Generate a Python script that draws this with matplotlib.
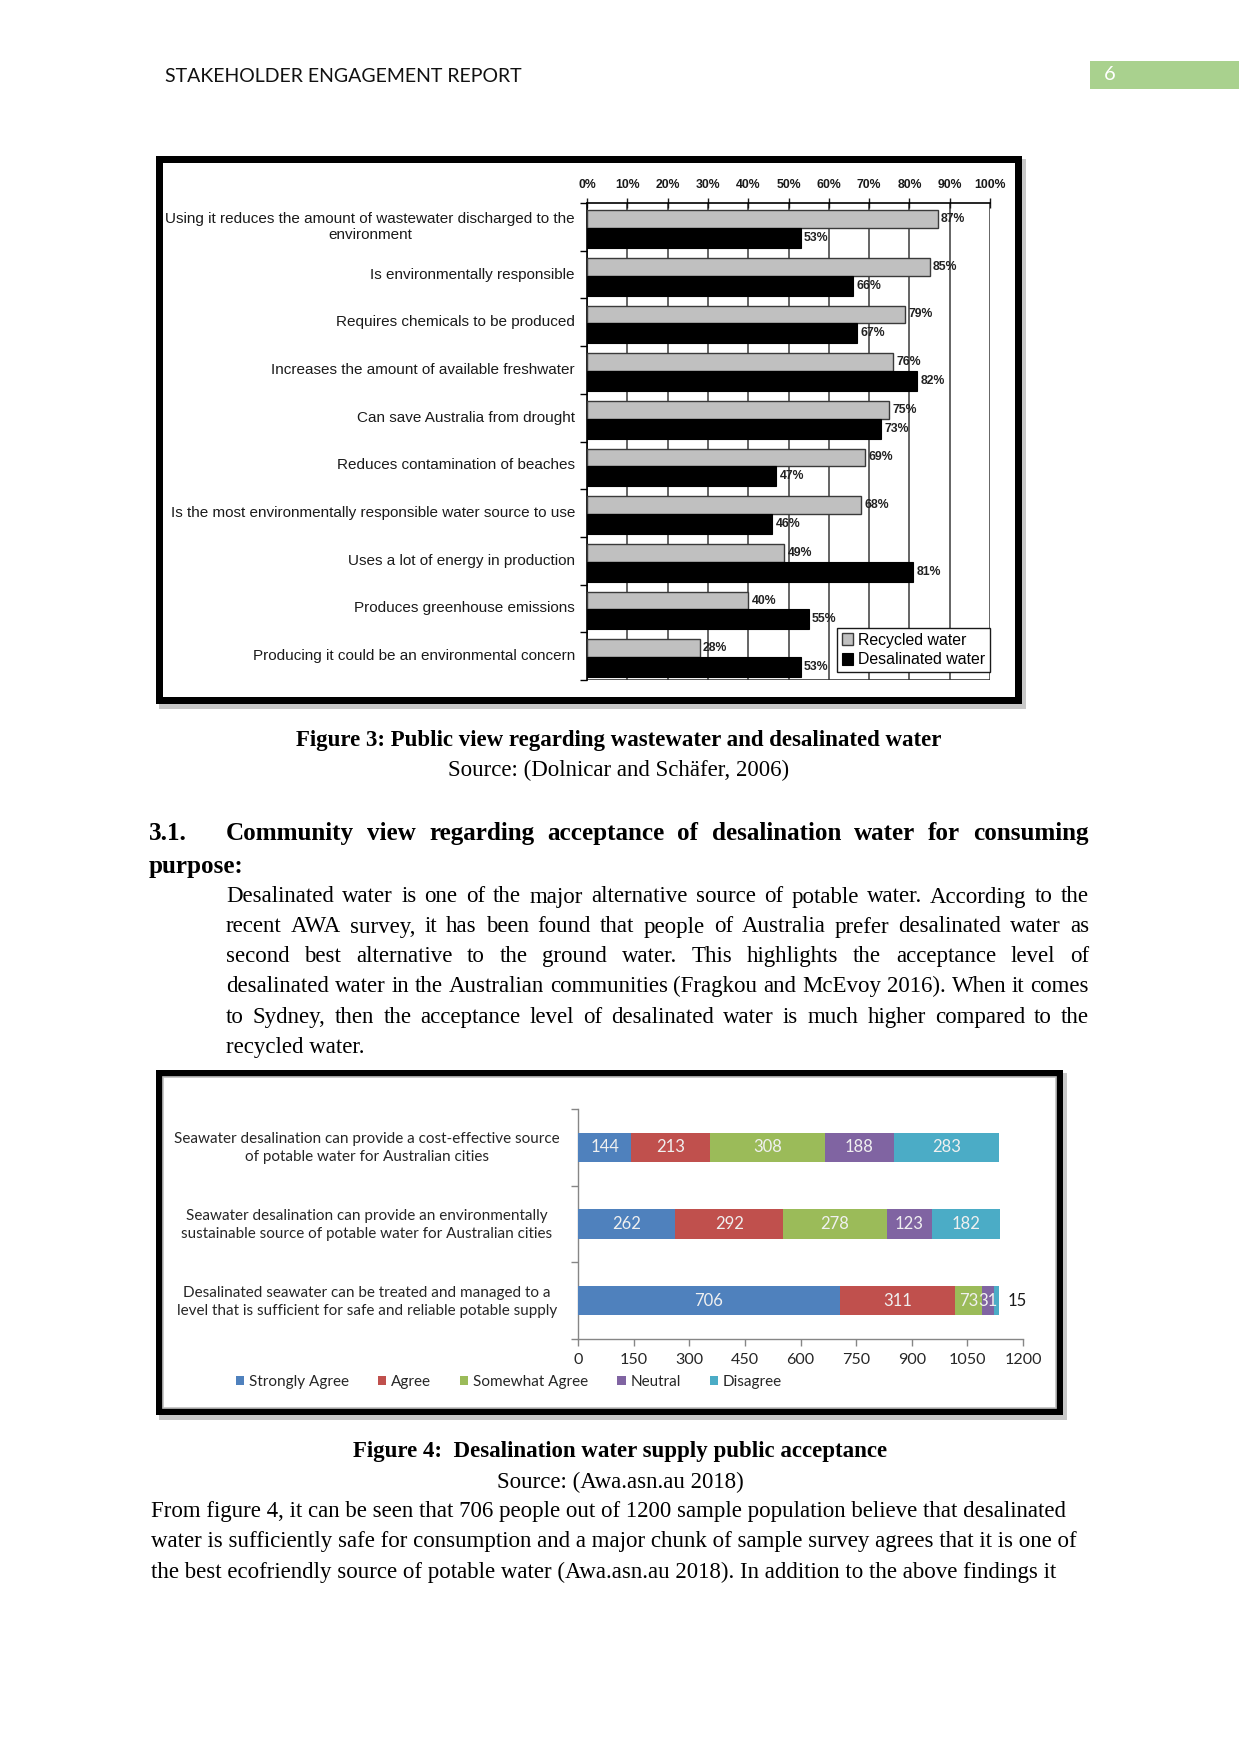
import matplotlib
matplotlib.use("Agg")
import matplotlib.pyplot as plt
import matplotlib.patches as mpatches
import numpy as np

# ── Data ─────────────────────────────────────────────────────────────────────

fig3_labels = [
    "Using it reduces the amount of wastewater discharged to the\nenvironment",
    "Is environmentally responsible",
    "Requires chemicals to be produced",
    "Increases the amount of available freshwater",
    "Can save Australia from drought",
    "Reduces contamination of beaches",
    "Is the most environmentally responsible water source to use",
    "Uses a lot of energy in production",
    "Produces greenhouse emissions",
    "Producing it could be an environmental concern",
]
recycled = [87, 85, 79, 76, 75, 69, 68, 49, 40, 28]
desalinated = [53, 66, 67, 82, 73, 47, 46, 81, 55, 53]

fig4_labels = [
    "Seawater desalination can provide a cost-effective source\nof potable water for Australian cities",
    "Seawater desalination can provide an environmentally\nsustainable source of potable water for Australian cities",
    "Desalinated seawater can be treated and managed to a\nlevel that is sufficient for safe and reliable potable supply",
]
fig4_series = ["Strongly Agree", "Agree", "Somewhat Agree", "Neutral", "Disagree"]
strongly_agree = [144, 262, 706]
agree = [213, 292, 311]
somewhat_agree = [308, 278, 73]
neutral = [188, 123, 31]
disagree = [283, 182, 15]
fig4_ticks = [0, 150, 300, 450, 600, 750, 900, 1050, 1200]

para1 = [
    "Desalinated water is one of the major alternative source of potable water. According to the",
    "recent AWA survey, it has been found that people of Australia prefer desalinated water as",
    "second best alternative to the ground water. This highlights the acceptance level of",
    "desalinated water in the Australian communities (Fragkou and McEvoy 2016). When it comes",
    "to Sydney, then the acceptance level of desalinated water is much higher compared to the",
]
para1_last = "recycled water."
para2 = [
    "From figure 4, it can be seen that 706 people out of 1200 sample population believe that desalinated",
    "water is sufficiently safe for consumption and a major chunk of sample survey agrees that it is one of",
    "the best ecofriendly source of potable water (Awa.asn.au 2018). In addition to the above findings it",
]

# ── Page setup (pixel helpers) ───────────────────────────────────────────────

W, H = 1241, 1754
fig = plt.figure(figsize=(W / 100, H / 100), dpi=100)
fig.patch.set_facecolor("white")
renderer = fig.canvas.get_renderer()


def fx(px):
    return px / W


def fy(py):
    return 1 - py / H


def rect(x0, y0, x1, y1, **kw):
    r = mpatches.Rectangle((fx(x0), fy(y1)), fx(x1) - fx(x0), (y1 - y0) / H,
                           transform=fig.transFigure, **kw)
    fig.patches.append(r)
    return r


def axes_px(x0, y0, x1, y1):
    return fig.add_axes([fx(x0), fy(y1), (x1 - x0) / W, (y1 - y0) / H])


serif = "Liberation Serif"
body_size = 16.45
head_size = 18.1


def baseline_offset(**kw):
    # distance (px) from the centre of an "lp" line box down to its baseline
    t = fig.text(0, 0.5, "lp", va="baseline", **kw)
    bb = t.get_window_extent(renderer)
    off = (bb.y0 + bb.y1) / 2 - 0.5 * H
    t.remove()
    return off


def justify(line, x0, x1, y, **kw):
    off = baseline_offset(**kw)
    words = line.split()
    texts = [fig.text(0, fy(y + off), w, va="baseline", ha="left", **kw) for w in words]
    widths = [t.get_window_extent(renderer).width for t in texts]
    gap = (x1 - x0 - sum(widths)) / max(len(words) - 1, 1)
    x = x0
    for t, w in zip(texts, widths):
        t.set_x(fx(x))
        x += w + gap


# ── Header ───────────────────────────────────────────────────────────────────

fig.text(fx(165), fy(76), "STAKEHOLDER ENGAGEMENT REPORT", family="Lato",
         fontsize=14, va="center", ha="left", color="#111111")
rect(1090, 61, 1239, 89, facecolor="#a9d18e", edgecolor="none", zorder=-1)
fig.text(fx(1110), fy(75), "6", family="Lato", fontsize=14.5, color="white",
         va="center", ha="center")

# ── Frames ───────────────────────────────────────────────────────────────────

for (x0, y0, x1, y1) in [(156, 156, 1022, 704), (156, 1070, 1063, 1415)]:
    rect(x0 + 3, y0 + 3, x1 + 4, y1 + 5, facecolor="#c8c8c8", edgecolor="none", zorder=-4)
    rect(x0, y0, x1, y1, facecolor="black", edgecolor="none", zorder=-3)
    rect(x0 + 7, y0 + 7, x1 - 7, y1 - 7, facecolor="white", edgecolor="none", zorder=-2)
rect(163, 1077, 1056, 1408, facecolor="none", edgecolor="#bfbfbf", linewidth=1.2, zorder=-1)

# ═══════════════════════════════════════════════════════════════════════════
# FIGURE 3 — recycled vs desalinated water
# ═══════════════════════════════════════════════════════════════════════════

ax1 = axes_px(587, 203, 990, 680)
ax1.set_facecolor("white")
n = len(fig3_labels)
pos = np.arange(n)
ax1.barh(pos + 0.335, recycled, height=0.37, color="#c0c0c0", edgecolor="#3a3a3a",
         linewidth=1.0, zorder=3, label="Recycled water")
ax1.barh(pos + 0.73, desalinated, height=0.42, color="black", edgecolor="black",
         linewidth=0.8, zorder=3, label="Desalinated water")
for i in range(n):
    ax1.text(recycled[i] + 0.8, i + 0.335, f"{recycled[i]}%", fontsize=8.8,
             fontweight="bold", family="Liberation Sans", va="center", ha="left",
             color="#222222", zorder=4)
    ax1.text(desalinated[i] + 0.8, i + 0.73, f"{desalinated[i]}%", fontsize=8.8,
             fontweight="bold", family="Liberation Sans", va="center", ha="left",
             color="#222222", zorder=4)
    ax1.text(-0.03, i + 0.5, fig3_labels[i], transform=ax1.get_yaxis_transform(),
             ha="right", va="center", multialignment="center", fontsize=11,
             family="Liberation Sans", color="#1a1a1a")

ax1.set_xlim(0, 100)
ax1.set_ylim(n, 0)
ax1.xaxis.tick_top()
ax1.set_xticks(range(0, 101, 10))
ax1.set_xticklabels([f"{v}%" for v in range(0, 101, 10)], fontsize=8.8,
                    fontweight="bold", family="Liberation Sans", color="#222222")
ax1.tick_params(axis="x", direction="inout", length=7, width=1, pad=5, colors="#1a1a1a")
ax1.set_yticks(range(0, n + 1))
ax1.set_yticklabels([])
ax1.tick_params(axis="y", direction="out", length=5, width=1)
ax1.grid(axis="x", color="#3a3a3a", linewidth=1.1, zorder=1)
ax1.set_axisbelow(True)
for s in ["right", "bottom"]:
    ax1.spines[s].set_visible(False)
ax1.spines["left"].set_linewidth(1.2)
ax1.spines["top"].set_linewidth(1.2)
ax1.axhline(n, color="#3a3a3a", linewidth=1.2, zorder=2)
leg1 = ax1.legend(loc="lower right", bbox_to_anchor=(1.0, 8 / 477), borderaxespad=0,
                  fancybox=False, edgecolor="#1a1a1a", framealpha=1,
                  prop={"family": "Liberation Sans", "size": 11.4},
                  handlelength=0.75, handleheight=0.75, handletextpad=0.3,
                  borderpad=0.3, labelspacing=0.3)
leg1.get_frame().set_linewidth(1.0)
leg1.set_zorder(5)

# captions
fig.text(fx(619), fy(741), "Figure 3: Public view regarding wastewater and desalinated water",
         family=serif, fontweight="bold", fontsize=body_size, ha="center", va="center")
fig.text(fx(619), fy(770), "Source: (Dolnicar and Schäfer, 2006)",
         family=serif, fontsize=body_size, ha="center", va="center")

# ── Section text ─────────────────────────────────────────────────────────────

fig.text(fx(149), fy(833), "3.1.", family=serif, fontweight="bold",
         fontsize=head_size, ha="left", va="center")
justify("Community view regarding acceptance of desalination water for consuming",
        226, 1089, 833, family=serif, fontweight="bold", fontsize=head_size)
fig.text(fx(149), fy(866), "purpose:", family=serif, fontweight="bold",
         fontsize=head_size, ha="left", va="center")

for k, line in enumerate(para1):
    justify(line, 226, 1089, 897 + 30 * k, family=serif, fontsize=body_size)
fig.text(fx(226), fy(897 + 30 * 5), para1_last, family=serif, fontsize=body_size,
         ha="left", va="center")

# ═══════════════════════════════════════════════════════════════════════════
# FIGURE 4 — desalination public acceptance
# ═══════════════════════════════════════════════════════════════════════════

ax2 = axes_px(578, 1109, 1023, 1339)
ax2.set_facecolor("none")
colors4 = ["#4f81bd", "#c0504d", "#9bbb59", "#8064a2", "#4bacc6"]
series4 = [strongly_agree, agree, somewhat_agree, neutral, disagree]
ypos = np.arange(len(fig4_labels)) + 0.5
left = np.zeros(len(fig4_labels))
for name, vals, col in zip(fig4_series, series4, colors4):
    vals = np.array(vals, dtype=float)
    ax2.barh(ypos, vals, left=left, height=0.38, color=col, label=name, zorder=3)
    for j, v in enumerate(vals):
        if v >= 25:
            ax2.text(left[j] + v / 2, ypos[j], f"{int(v)}", ha="center", va="center",
                     fontsize=12, family="Lato", color="#f0f0f0", zorder=4)
        else:
            ax2.text(left[j] + v + 22, ypos[j], f"{int(v)}", ha="left", va="center",
                     fontsize=12, family="Lato", color="#1a1a1a", zorder=4)
    left += vals

for j, lab in enumerate(fig4_labels):
    fig.text(fx(367), fy(1148 + 77 * j), lab, ha="center", va="center",
             multialignment="center", fontsize=11, family="Lato", color="#262626",
             linespacing=1.45)

ax2.set_xlim(0, 1200)
ax2.set_ylim(3, 0)
ax2.set_xticks(fig4_ticks)
ax2.set_xticklabels([str(t) for t in fig4_ticks], fontsize=11.6, family="Lato",
                    color="#262626")
ax2.set_yticks([0, 1, 2, 3])
ax2.set_yticklabels([])
ax2.tick_params(axis="both", direction="out", length=5, width=1, color="#868686")
ax2.tick_params(axis="x", pad=5)
for s in ["top", "right"]:
    ax2.spines[s].set_visible(False)
for s in ["left", "bottom"]:
    ax2.spines[s].set_color("#868686")
    ax2.spines[s].set_linewidth(1.0)

leg2 = fig.legend(*ax2.get_legend_handles_labels(), loc="center left",
                  bbox_to_anchor=(fx(236), fy(1382)), ncol=5, frameon=False,
                  prop={"family": "Lato", "size": 11},
                  handlelength=0.55, handleheight=0.55, handletextpad=0.3,
                  columnspacing=1.9, borderaxespad=0, borderpad=0)
for t in leg2.get_texts():
    t.set_color("#262626")

fig.text(fx(620), fy(1452), "Figure 4:  Desalination water supply public acceptance",
         family=serif, fontweight="bold", fontsize=body_size, ha="center", va="center")
fig.text(fx(620), fy(1482), "Source: (Awa.asn.au 2018)",
         family=serif, fontsize=body_size, ha="center", va="center")

for k, line in enumerate(para2):
    fig.text(fx(151), fy(1512 + 30 * k), line, family=serif, fontsize=body_size,
             ha="left", va="center")

fig.savefig("out.png", dpi=100)
